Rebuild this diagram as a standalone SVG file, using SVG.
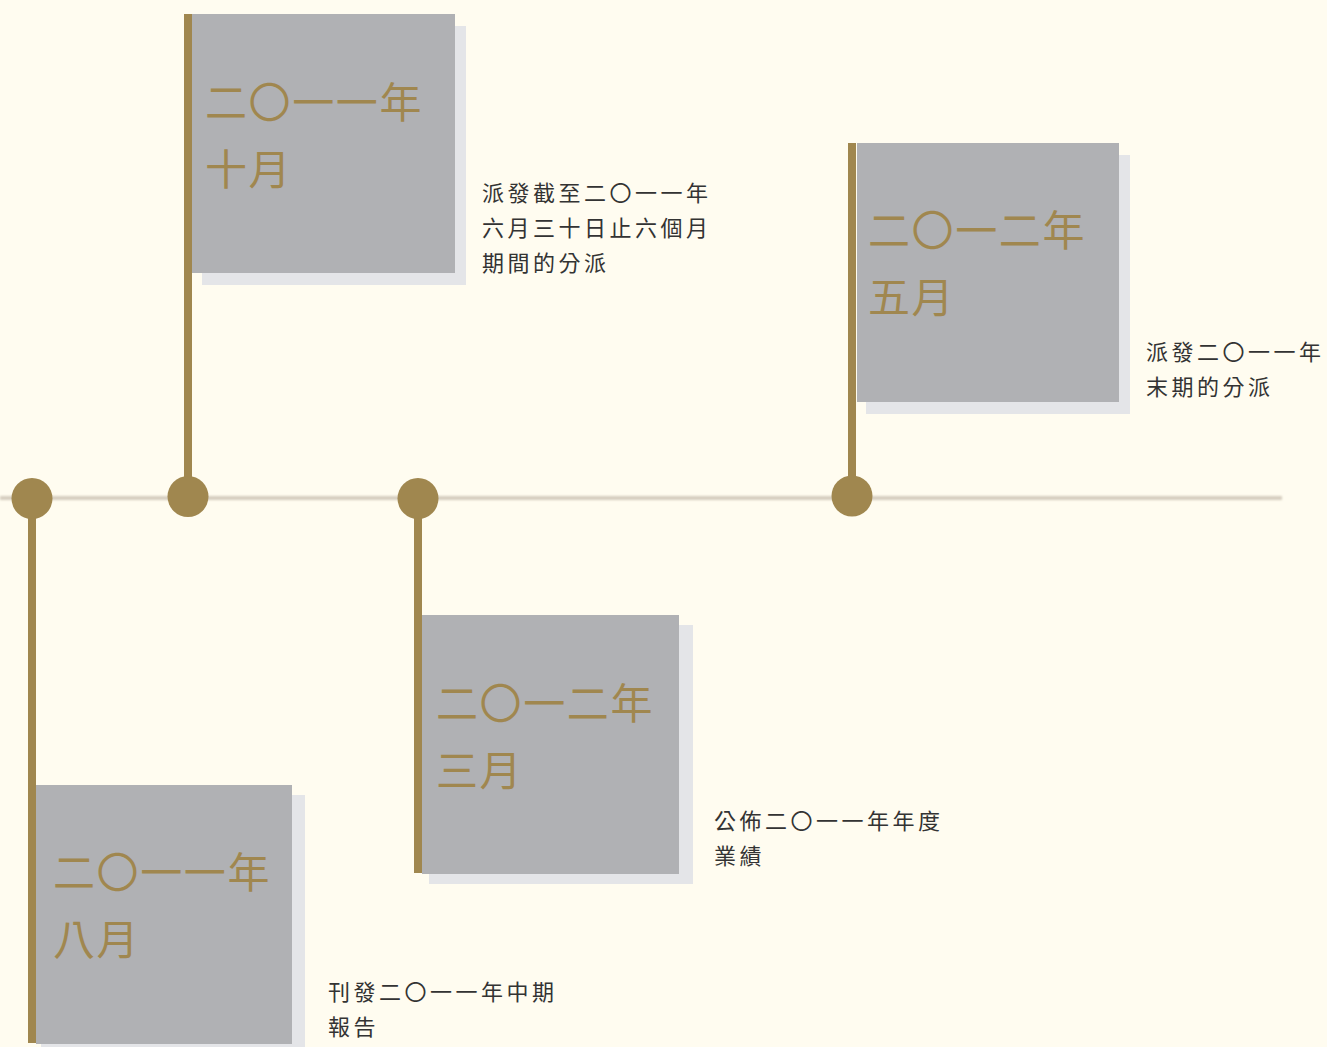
<svg xmlns="http://www.w3.org/2000/svg" width="1327" height="1047" viewBox="0 0 1327 1047">
  <style>
    .pole { fill: #a0874f; }
    .dot { fill: #a0874f; }
    .box { fill: #b0b1b4; }
    .shadow { fill: #e4e5e8; }
    .date { font-family: "Noto Sans CJK TC", "Noto Sans CJK SC", sans-serif; font-size: 42px; letter-spacing: 1.6px; fill: #a0874f; font-weight: 400; }
    .desc { font-family: "Noto Sans CJK TC", "Noto Sans CJK SC", sans-serif; font-size: 22px; letter-spacing: 3.5px; fill: #333333; font-weight: 400; }
  </style>
  <defs>
    <filter id="soft" x="-1%" y="-200%" width="102%" height="500%">
      <feGaussianBlur stdDeviation="0.8"/>
    </filter>
  </defs>
  <rect width="1327" height="1047" fill="#fffcf0"/>

  <g id="connectors">
    <rect x="0" y="496" width="1282" height="4" fill="#d6cdbf" filter="url(#soft)"/>
  </g>

  <g id="node-2011-08">
    <rect class="shadow" x="41" y="795" width="264" height="252"/>
    <rect class="box" x="36" y="785" width="256" height="259"/>
    <rect class="pole" x="28" y="498" width="8" height="545"/>
    <circle class="dot" cx="32" cy="498.5" r="20.5"/>
    <text class="date" x="53" y="888">二〇一一年</text>
    <text class="date" x="53" y="955">八月</text>
    <text class="desc" x="328" y="1000">刊發二〇一一年中期</text>
    <text class="desc" x="328" y="1035">報告</text>
  </g>

  <g id="node-2011-10">
    <rect class="shadow" x="202" y="26" width="264" height="259"/>
    <rect class="box" x="192" y="14" width="263" height="259"/>
    <rect class="pole" x="184" y="14" width="8" height="482"/>
    <circle class="dot" cx="188" cy="496.5" r="20.5"/>
    <text class="date" x="205" y="118">二〇一一年</text>
    <text class="date" x="205" y="185">十月</text>
    <text class="desc" x="482" y="201">派發截至二〇一一年</text>
    <text class="desc" x="482" y="236">六月三十日止六個月</text>
    <text class="desc" x="482" y="271">期間的分派</text>
  </g>

  <g id="node-2012-03">
    <rect class="shadow" x="429" y="625" width="264" height="259"/>
    <rect class="box" x="422" y="615" width="257" height="259"/>
    <rect class="pole" x="414" y="499" width="8" height="374"/>
    <circle class="dot" cx="418" cy="498.5" r="20.5"/>
    <text class="date" x="436" y="719">二〇一二年</text>
    <text class="date" x="436" y="786">三月</text>
    <text class="desc" x="714" y="829">公佈二〇一一年年度</text>
    <text class="desc" x="714" y="864">業績</text>
  </g>

  <g id="node-2012-05">
    <rect class="shadow" x="866" y="155" width="264" height="259"/>
    <rect class="box" x="857" y="143" width="262" height="259"/>
    <rect class="pole" x="848" y="143" width="8" height="353"/>
    <circle class="dot" cx="852" cy="496" r="20.5"/>
    <text class="date" x="868" y="246">二〇一二年</text>
    <text class="date" x="868" y="313">五月</text>
    <text class="desc" x="1146" y="360">派發二〇一一年</text>
    <text class="desc" x="1146" y="395">末期的分派</text>
  </g>
</svg>
